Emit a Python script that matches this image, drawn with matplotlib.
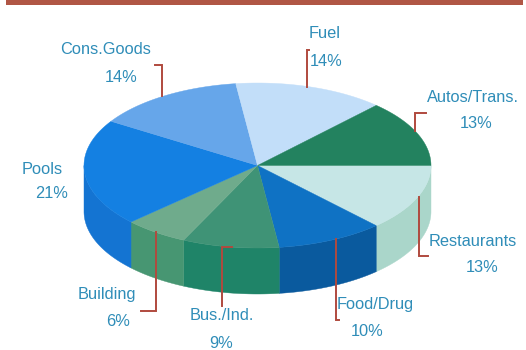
import numpy as np
import matplotlib
matplotlib.use("Agg")
import matplotlib.pyplot as plt

# shares, clockwise from the 3 o'clock position
names = ["Restaurants", "Food/Drug", "Bus./Ind.", "Building", "Pools", "Cons.Goods", "Fuel", "Autos/Trans."]
shares = [13, 10, 9, 6, 21, 14, 14, 13]
top_colors = ["#c6e6e6", "#0f72c4", "#3f9376", "#6fab8c", "#1480e2", "#66a6ea", "#c2def9", "#23825f"]
side_colors = ["#aad6ca", "#0a5a9e", "#1f8468", "#479672", "#1474d2", "#4f8fd8", "#9fc4ea", "#186a50"]

label_pos = [(473, 241, 482, 268), (375, 305, 367, 332), (222, 316, 221, 343), (107, 295, 118, 322),
             (42, 169, 52, 194), (106, 50, 121, 77), (325, 34, 326, 61), (473, 97, 476, 124)]
leaders = [[(419, 197), (419, 256), (428, 256)],
           [(336, 239), (336, 320), (339, 320)],
           [(232, 247), (222, 247), (222, 306)],
           [(156, 232), (156, 311), (141, 311)],
           None,
           [(155, 65), (162, 65), (162, 96)],
           [(309, 50), (307, 50), (307, 87)],
           [(426, 113), (415, 113), (415, 131)]]

cx, cy = 257.5, 165.5
rx, ry = 173.5, 82.5
depth = 46
text_color = "#2f8db8"
line_color = "#b04a3e"

plt.rcParams["font.family"] = ["Liberation Sans", "DejaVu Sans"]

fig = plt.figure(figsize=(5.26, 3.5), dpi=100)
ax = fig.add_axes([0, 0, 1, 1])
ax.set_xlim(0, 526)
ax.set_ylim(350, 0)
ax.axis("off")

# band along the top edge
ax.fill_between([6, 523], 0, 5, color="#b05645", lw=0)


def arc(a0, a1):
    t = np.radians(np.linspace(a0, a1, 80))
    return cx + rx * np.cos(t), cy - ry * np.sin(t)


# angles run clockwise, so each slice goes from start down to start - sweep
sweeps = 360 * np.array(shares) / sum(shares)
ends = -np.cumsum(sweeps)
starts = ends + sweeps

# rim first, only the part of each slice on the near side
for a0, a1, col in zip(starts, ends, side_colors):
    lo = max(a1, -180)
    hi = min(a0, 0)
    if lo >= hi:
        continue
    x, y = arc(hi, lo)
    ax.fill(np.r_[x, x[::-1]], np.r_[y, y[::-1] + depth], color=col, lw=0.3, zorder=2)

for a0, a1, col in zip(starts, ends, top_colors):
    x, y = arc(a0, a1)
    ax.fill(np.r_[cx, x], np.r_[cy, y], color=col, lw=0.3, zorder=3)

for name, share, pos, pts in zip(names, shares, label_pos, leaders):
    ax.text(pos[0], pos[1], name, color=text_color, fontsize=11.8, ha="center", va="center")
    ax.text(pos[2], pos[3], f"{share}%", color=text_color, fontsize=11.8, ha="center", va="center")
    if pts:
        xs, ys = zip(*pts)
        ax.plot(xs, ys, color=line_color, lw=1.4, zorder=4, solid_joinstyle="miter")

fig.savefig("out.png", dpi=100)
